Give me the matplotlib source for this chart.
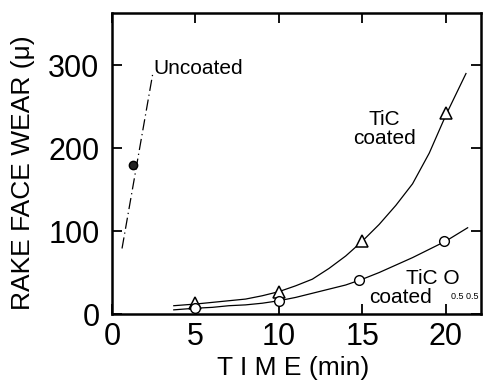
import matplotlib
matplotlib.use("Agg")
import matplotlib.pyplot as plt

plt.rcParams['font.family'] = ['Liberation Sans', 'DejaVu Sans']

# readings
unc_t = [1.26]
unc_w = [180]
unc_line_t = [0.6, 2.46]
unc_line_w = [79, 292]

tic_t = [5.0, 10.0, 15.0, 20.0]
tic_w = [13, 27, 88, 242]
tic_curve_t = [3.7, 5, 6, 7, 8, 9, 10, 11, 12, 13, 14, 15, 16, 17, 18, 19, 20, 20.6, 21.2]
tic_curve_w = [10, 12, 14, 16, 18, 22, 27, 34, 42, 55, 70, 88, 108, 131, 157, 194, 240, 265, 290]

tico_t = [5.0, 10.0, 14.8, 19.9]
tico_w = [7, 16, 41, 88]
tico_curve_t = [3.7, 5, 6, 7, 8, 9, 10, 11, 12, 13, 14, 15, 16, 17, 18, 19, 20, 21.3]
tico_curve_w = [5, 7, 8, 10, 11, 13, 16, 20, 25, 30, 35, 42, 50, 59, 68, 78, 88, 104]

xticks = [0, 5, 10, 15, 20]
yticks = [0, 100, 200, 300]

fig = plt.figure(figsize=(4.83, 3.87), dpi=100)
ax = fig.add_axes([112 / 483, 1 - 314 / 387, 369 / 483, 301 / 387])

# uncoated: single point with dash-dot line
ax.plot(unc_line_t, unc_line_w, color="black", lw=0.9, ls=(0, (9, 3, 1, 3)))
ax.plot(unc_t, unc_w, "o", color="black", ms=6, mfc="#222222")

# TiC coated
ax.plot(tic_curve_t, tic_curve_w, color="black", lw=0.9)
ax.plot(tic_t, tic_w, "^", color="black", ms=8, mfc="white", mew=1.1)

# TiC0.5O0.5 coated
ax.plot(tico_curve_t, tico_curve_w, color="black", lw=0.9)
ax.plot(tico_t, tico_w, "o", color="black", ms=7, mfc="white", mew=1.0)

ax.set_xlim(0, 22.1)
ax.set_ylim(0, 363)
ax.set_xticks(xticks)
ax.set_yticks(yticks)
ax.tick_params(direction="in", length=7, width=1.3, labelsize=22,
               top=True, right=True)
ax.tick_params(axis="x", pad=6)
ax.tick_params(axis="y", pad=9)
for s in ax.spines.values():
    s.set_linewidth(1.8)

ax.set_xlabel("T I M E (min)", fontsize=19)
ax.set_ylabel("RAKE FACE WEAR (μ)", fontsize=19)
ax.xaxis.set_label_coords(0.49, -0.14)
ax.yaxis.set_label_coords(-0.21, 0.47)

ax.text(2.46, 289, "Uncoated", fontsize=15)
ax.text(16.3, 205, "TiC\ncoated", fontsize=15, ha="center",
        linespacing=1.0)
ax.text(17.6, 36, "TiC O", fontsize=15)
ax.text(15.4, 13, "coated", fontsize=15)
ax.text(20.3, 18, "0.5 0.5", fontsize=6.5)

fig.savefig("out.png", dpi=100)
